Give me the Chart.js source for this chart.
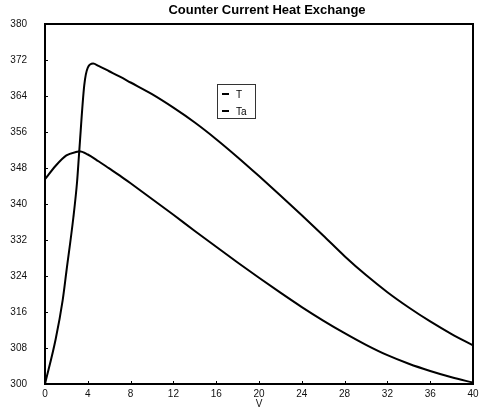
<!DOCTYPE html>
<html>
<head>
<meta charset="utf-8">
<script src="https://cdn.jsdelivr.net/npm/chart.js@4/dist/chart.umd.min.js"></script>
<style>
  html, body { margin: 0; padding: 0; background: #fff; }
  #wrap { width: 491px; height: 414px; }
</style>
</head>
<body>
<div id="wrap"><canvas id="chart"></canvas></div>
<script>
// Datos
const vT = [0, 1, 1.65, 2, 2.65, 3, 3.2, 3.67, 4, 4.5, 5, 6, 7, 8, 10, 12, 14, 16, 18, 20, 22, 24, 26, 28, 30, 32, 34, 36, 38, 40];
const tValues = [300, 310, 318.6, 325, 337, 345, 351.7, 366.4, 370.3, 371.2, 370.7, 369.5, 368.3, 367.0, 364.4, 361.4, 358.1, 354.4, 350.4, 346.2, 341.9, 337.5, 333.0, 328.4, 324.2, 320.4, 317.0, 313.9, 311.1, 308.6];

const vTa = [0, 1, 2, 3, 3.2, 4, 5, 6, 7, 8, 10, 12, 14, 16, 18, 20, 22, 24, 26, 28, 30, 32, 34, 36, 38, 40];
const taValues = [345.5, 348.5, 350.8, 351.6, 351.7, 351.0, 349.5, 347.9, 346.3, 344.6, 341.1, 337.6, 334.0, 330.5, 327.0, 323.6, 320.3, 317.1, 314.1, 311.3, 308.7, 306.4, 304.5, 302.9, 301.5, 300.3];

const xTicks = [0, 4, 8, 12, 16, 20, 24, 28, 32, 36, 40];
const yTicks = [300, 308, 316, 324, 332, 340, 348, 356, 364, 372, 380];

const titleText = 'Counter Current Heat Exchange';

const toPoints = (xs, ys) => xs.map((x, i) => ({ x: x, y: ys[i] }));

// Marco, marcas interiores, título y leyenda
const framePlugin = {
    id: 'frame',
    afterDraw(chart) {
        const ctx = chart.ctx;
        const a = chart.chartArea;
        const xs = chart.scales.x;
        const ys = chart.scales.y;
        ctx.save();
        ctx.strokeStyle = '#000';
        ctx.lineWidth = 1;
        ctx.beginPath();
        yTicks.forEach(v => {
            const py = Math.round(ys.getPixelForValue(v)) + 0.5;
            ctx.moveTo(a.left, py);
            ctx.lineTo(a.left + 3, py);
        });
        xTicks.forEach(v => {
            const px = Math.round(xs.getPixelForValue(v)) + 0.5;
            ctx.moveTo(px, a.bottom);
            ctx.lineTo(px, a.bottom - 3);
        });
        ctx.stroke();
        ctx.lineWidth = 2;
        ctx.strokeRect(a.left, a.top, a.right - a.left, a.bottom - a.top);

        // título
        ctx.fillStyle = '#000';
        ctx.font = 'bold 13px "Liberation Sans", Arial, sans-serif';
        ctx.textAlign = 'center';
        ctx.textBaseline = 'middle';
        ctx.fillText(titleText, (a.left + a.right) / 2 + 8, 10);

        // leyenda
        const lx = 217, ly = 84, lw = 38, lh = 34;
        ctx.fillStyle = '#fff';
        ctx.fillRect(lx, ly, lw, lh);
        ctx.lineWidth = 1;
        ctx.strokeStyle = '#333';
        ctx.strokeRect(lx + 0.5, ly + 0.5, lw, lh);
        ctx.font = '10px "Liberation Sans", Arial, sans-serif';
        ctx.textAlign = 'left';
        chart.data.datasets.forEach((ds, i) => {
            const yy = ly + 10 + i * 17;
            ctx.strokeStyle = '#000';
            ctx.lineWidth = 2;
            ctx.beginPath();
            ctx.moveTo(lx + 5, yy);
            ctx.lineTo(lx + 12, yy);
            ctx.stroke();
            ctx.fillStyle = '#000';
            ctx.fillText(ds.label, lx + 19, yy + 1);
        });
        ctx.restore();
    }
};

const ctx = document.getElementById('chart').getContext('2d');
const chart = new Chart(ctx, {
    type: 'line',
    data: {
        datasets: [{
            label: 'T',
            data: toPoints(vT, tValues),
            borderColor: '#000',
            borderWidth: 2,
            pointRadius: 0,
            cubicInterpolationMode: 'monotone',
            fill: false
        }, {
            label: 'Ta',
            data: toPoints(vTa, taValues),
            borderColor: '#000',
            borderWidth: 2,
            pointRadius: 0,
            cubicInterpolationMode: 'monotone',
            fill: false
        }]
    },
    options: {
        responsive: true,
        maintainAspectRatio: false,
        animation: false,
        layout: {
            padding: { top: 22, right: 18, bottom: 0, left: 0 }
        },
        plugins: {
            legend: { display: false },
            title: { display: false },
            tooltip: { enabled: false }
        },
        scales: {
            x: {
                type: 'linear',
                min: 0,
                max: 40,
                afterBuildTicks: s => { s.ticks = xTicks.map(v => ({ value: v })); },
                afterFit: s => { s.height = 30; },
                grid: { display: false, drawTicks: false },
                border: { display: false },
                ticks: {
                    padding: 4,
                    color: '#111',
                    font: { family: '"Liberation Sans", Arial, sans-serif', size: 10 },
                    maxRotation: 0
                },
                title: {
                    display: true,
                    text: 'V',
                    color: '#111',
                    padding: { top: 0, bottom: 4 },
                    font: { family: '"Liberation Sans", Arial, sans-serif', size: 10 }
                }
            },
            y: {
                min: 300,
                max: 380,
                afterBuildTicks: s => { s.ticks = yTicks.map(v => ({ value: v })); },
                afterFit: s => { s.width = 45; },
                grid: { display: false, drawTicks: false },
                border: { display: false },
                ticks: {
                    padding: 18,
                    color: '#111',
                    font: { family: '"Liberation Sans", Arial, sans-serif', size: 10 }
                }
            }
        }
    },
    plugins: [framePlugin]
});
</script>
</body>
</html>
